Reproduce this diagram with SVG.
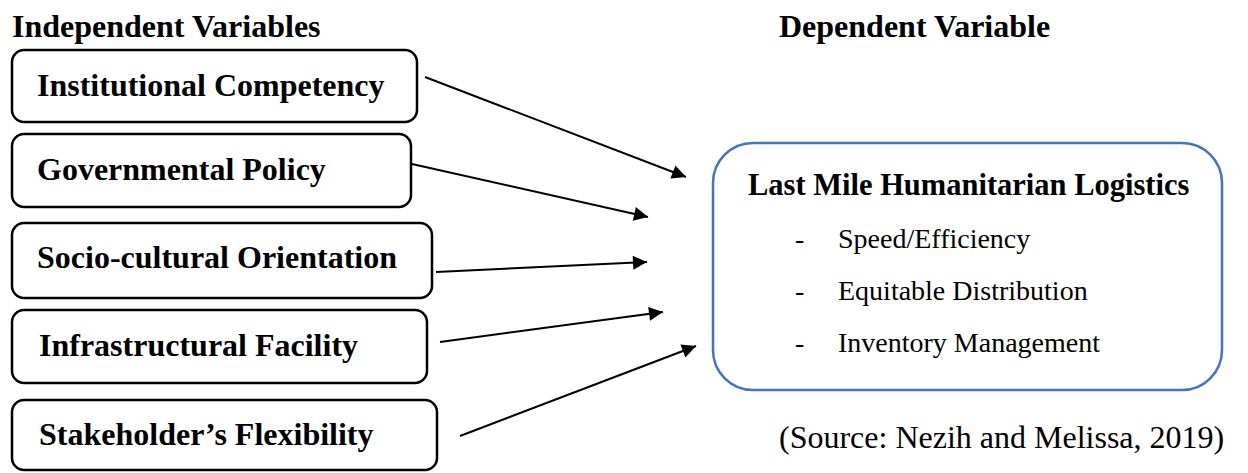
<svg xmlns="http://www.w3.org/2000/svg" width="1248" height="473" viewBox="0 0 1248 473">
  <style>
    .hdr { font-family: "Liberation Serif", "Times New Roman", serif; font-weight: bold; font-size: 32px; fill: #000; }
    .box { fill: #fff; stroke: #000; stroke-width: 2.5; }
    .lbl { font-family: "Liberation Serif", "Times New Roman", serif; font-weight: bold; font-size: 32px; fill: #000; }
    .ttl { font-family: "Liberation Serif", "Times New Roman", serif; font-weight: bold; font-size: 30.5px; fill: #000; }
    .dep { fill: #fff; stroke: #4472C4; stroke-width: 2.5; }
    .item { font-family: "Liberation Serif", "Times New Roman", serif; font-size: 28px; fill: #000; }
    .src { font-family: "Liberation Serif", "Times New Roman", serif; font-size: 32px; fill: #000; }
    .arrow { stroke: #000; stroke-width: 2; fill: none; marker-end: url(#head); }
  </style>
  <defs>
    <marker id="head" viewBox="0 0 10 10" refX="10" refY="5" markerUnits="userSpaceOnUse" markerWidth="17" markerHeight="14" orient="auto">
      <path d="M0,0 L10,5 L0,10 Z" fill="#000"/>
    </marker>
  </defs>

  <rect width="1248" height="473" fill="#fff"/>

  <text class="hdr" x="12" y="37">Independent Variables</text>
  <text class="hdr" x="779" y="37">Dependent Variable</text>

  <g id="institutional-competency">
    <rect class="box" x="12" y="50" width="405" height="72" rx="12"/>
    <text class="lbl" x="37" y="96">Institutional Competency</text>
  </g>
  <g id="governmental-policy">
    <rect class="box" x="12" y="134" width="399" height="73" rx="12"/>
    <text class="lbl" x="37" y="180">Governmental Policy</text>
  </g>
  <g id="socio-cultural-orientation">
    <rect class="box" x="12" y="223" width="420" height="75" rx="12"/>
    <text class="lbl" x="37" y="268">Socio-cultural Orientation</text>
  </g>
  <g id="infrastructural-facility">
    <rect class="box" x="12" y="310" width="415" height="73" rx="12"/>
    <text class="lbl" x="39" y="356">Infrastructural Facility</text>
  </g>
  <g id="stakeholders-flexibility">
    <rect class="box" x="12" y="400" width="425" height="70" rx="12"/>
    <text class="lbl" x="39" y="445">Stakeholder’s Flexibility</text>
  </g>

  <g id="last-mile-humanitarian-logistics">
    <rect class="dep" x="713" y="143" width="509" height="247" rx="40"/>
    <text class="ttl" x="748" y="195">Last Mile Humanitarian Logistics</text>
    <text class="item" x="795" y="248">-</text>
    <text class="item" x="838" y="248">Speed/Efficiency</text>
    <text class="item" x="795" y="300">-</text>
    <text class="item" x="838" y="300">Equitable Distribution</text>
    <text class="item" x="795" y="352">-</text>
    <text class="item" x="838" y="352">Inventory Management</text>
  </g>

  <text class="src" x="779" y="448">(Source: Nezih and Melissa, 2019)</text>

  <g id="connectors">
    <line class="arrow" x1="425" y1="77" x2="686" y2="177"/>
    <line class="arrow" x1="412" y1="164" x2="648" y2="217"/>
    <line class="arrow" x1="436" y1="272" x2="647" y2="262"/>
    <line class="arrow" x1="440" y1="342" x2="663" y2="312"/>
    <line class="arrow" x1="460" y1="436" x2="696" y2="346"/>
  </g>
</svg>
